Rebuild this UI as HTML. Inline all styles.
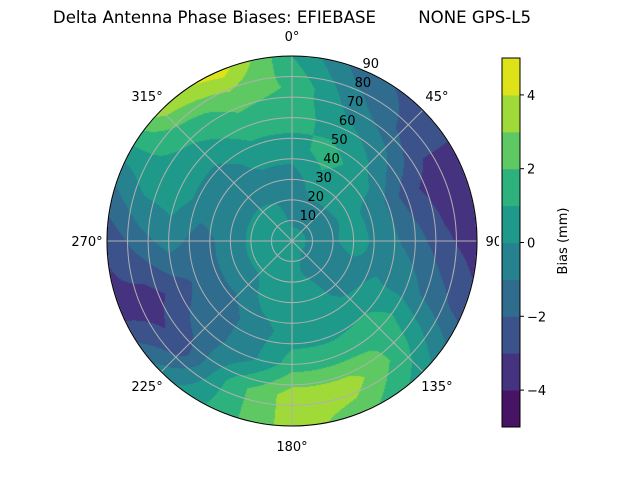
<!DOCTYPE html>
<html><head><meta charset="utf-8">
<style>
html,body{margin:0;padding:0;background:#fff;}
body{width:640px;height:480px;position:relative;overflow:hidden;font-family:"DejaVu Sans","Liberation Sans",sans-serif;}
#plot{position:absolute;left:0;top:0;}
svg{position:absolute;left:0;top:0;font-family:"DejaVu Sans","Liberation Sans",sans-serif;}
</style></head>
<body>
<canvas id="plot" width="640" height="480"></canvas>
<svg id="svg" width="640" height="480"></svg>
<script>
// ---- data ----
const azimuths = [0,22.5,45,67.5,90,112.5,135,157.5,180,202.5,225,247.5,270,292.5,315,337.5];
const zeniths = [0,15,30,45,60,75,90];
const az0   = [0.4,-0.5,-0.5,0.5,1.5,1.9,1.0];
const az22  = [0.4,-0.5,0.5,1.5,0.5,-0.5,-1.5];
const az45  = [0.4,-0.5,0.5,0.5,-0.5,-2.2,-2.5];
const az67  = [0.4,-0.5,0.3,-0.5,-2.5,-3.6,-3.4];
const az90  = [0.4,-0.5,0.5,-0.5,-1.5,-2.8,-3.6];
const az112 = [0.4,-0.5,-0.3,0.0,-0.5,-1.5,-2.5];
const az135 = [0.4,-0.5,-0.5,0.5,2.0,1.5,0.5];
const az157 = [0.4,-0.2,0.5,0.5,1.5,3.5,2.5];
const az180 = [0.4,0.5,0.5,0.5,1.5,3.5,3.5];
const az202 = [0.4,0.5,0.5,-0.5,-0.5,1.5,1.5];
const az225 = [0.4,0.5,-0.5,-1.5,-1.5,-2.5,-0.5];
const az247 = [0.4,0.5,-0.5,-1.5,-2.5,-3.6,-3.4];
const az270 = [0.4,0.5,-0.5,-1.5,-0.5,-1.5,-2.8];
const az292 = [0.4,0.5,-0.5,-0.5,0.5,0.5,-0.5];
const az315 = [0.4,0.5,-0.5,-0.5,0.5,1.5,3.5];
const az337 = [0.4,0.2,-0.5,0.5,1.5,2.5,4.5];
const levels = [-5,-4,-3,-2,-1,0,1,2,3,4,5];
const levelColors = ['#471365','#45337f','#3b528b','#2f6c8e','#26828e','#1f9a8a','#2db27d','#5ec962','#a0da39','#dde318'];
const cbTicks = [-4,-2,0,2,4];
const angleTicks = [0,45,90,135,180,225,270,315];
const ringTicks = [10,20,30,40,50,60,70,80,90];

const grid = [az0,az22,az45,az67,az90,az112,az135,az157,az180,az202,az225,az247,az270,az292,az315,az337];
const CX=292, CY=241, R=185, RMAX=90;
function rScale(z){return z/RMAX*R;}
function polar(az,z){const a=az*Math.PI/180;return [CX+rScale(z)*Math.sin(a), CY-rScale(z)*Math.cos(a)];}
function value(az,z){
  const n=azimuths.length, step=360/n;
  let fa=((az%360)+360)%360/step; const i0=Math.floor(fa)%n, i1=(i0+1)%n; const ta=fa-Math.floor(fa);
  let zi=0; while(zi<zeniths.length-2 && z>zeniths[zi+1]) zi++;
  const tz=Math.min(1,Math.max(0,(z-zeniths[zi])/(zeniths[zi+1]-zeniths[zi])));
  const a=grid[i0][zi]*(1-tz)+grid[i0][zi+1]*tz;
  const b=grid[i1][zi]*(1-tz)+grid[i1][zi+1]*tz;
  return a*(1-ta)+b*ta;
}
function colorFor(v){
  for(let i=0;i<levels.length-1;i++){ if(v<levels[i+1]) return levelColors[i]; }
  return levelColors[levelColors.length-1];
}
const ctx=document.getElementById('plot').getContext('2d');
for(let y=CY-R;y<=CY+R;y++){
  for(let x=CX-R;x<=CX+R;x++){
    const dx=x+0.5-CX, dy=y+0.5-CY, d=Math.sqrt(dx*dx+dy*dy);
    if(d>R) continue;
    const az=Math.atan2(dx,-dy)*180/Math.PI;
    ctx.fillStyle=colorFor(value(az,d/R*RMAX));
    ctx.fillRect(x,y,1,1);
  }
}
const NS='http://www.w3.org/2000/svg';
const svg=document.getElementById('svg');
function mk(tag,attrs,parent){const e=document.createElementNS(NS,tag);for(const k in attrs)e.setAttribute(k,attrs[k]);(parent||svg).appendChild(e);return e;}
const gridG=mk('g',{stroke:'#b0b0b0','stroke-width':'1',fill:'none'});


ringTicks.forEach(z=>{const c=mk('circle',{cx:CX,cy:CY,r:rScale(z)},gridG);

});
angleTicks.forEach(a=>{const p=polar(a,RMAX);const l=mk('line',{x1:CX,y1:CY,x2:p[0],y2:p[1]},gridG);

});
const border=mk('circle',{cx:CX,cy:CY,r:R,fill:'none',stroke:'#000','stroke-width':'1'});


angleTicks.forEach(a=>{const rad=a*Math.PI/180;const d=R+20;
const px=CX+d*Math.sin(rad), py=CY-d*Math.cos(rad);
const t=mk('text',{x:px,y:py+5,'font-size':'13','text-anchor':'middle',fill:'#000'});
t.textContent=a+'°';

});
ringTicks.forEach(z=>{const p=polar(22.5,z);const t=mk('text',{x:p[0]+8,y:p[1]-2,'font-size':'13','text-anchor':'middle',fill:'#000'});
t.textContent=z;

});
const CBX=502, CBW=18, CBT=58, CBB=427;
function cbY(v){return CBB-(v-levels[0])/(levels[levels.length-1]-levels[0])*(CBB-CBT);}
const cb=mk('g',{});


mk('rect',{x:CBX-3,y:CBT-2,width:CBW+5,height:CBB-CBT+4,fill:'#fff'},cb);
for(let i=0;i<levelColors.length;i++){
  const r=mk('rect',{x:CBX,y:cbY(levels[i+1]),width:CBW,height:cbY(levels[i])-cbY(levels[i+1])+0.5,fill:levelColors[i]},cb);
  
  
}
mk('rect',{x:CBX,y:CBT,width:CBW,height:CBB-CBT,fill:'none',stroke:'#000','stroke-width':'1'},cb);
cbTicks.forEach(v=>{const y=cbY(v);mk('line',{x1:CBX+CBW,y1:y,x2:CBX+CBW+4,y2:y,stroke:'#000'},cb);
const t=mk('text',{x:CBX+CBW+7,y:y+5,'font-size':'13',fill:'#000'},cb);t.textContent=(v<0?'\u2212'+(-v):String(v));

});
const cl=mk('text',{x:0,y:0,'font-size':'13','text-anchor':'middle',fill:'#000',transform:'translate(567,241) rotate(-90)'});
cl.textContent='Bias (mm)';


const title=mk('text',{x:292,y:23,'font-size':'16.6','text-anchor':'middle',fill:'#000'});
title.style.whiteSpace='pre';
title.textContent='Delta Antenna Phase Biases: EFIEBASE        NONE GPS-L5';


</script>
</body></html>
